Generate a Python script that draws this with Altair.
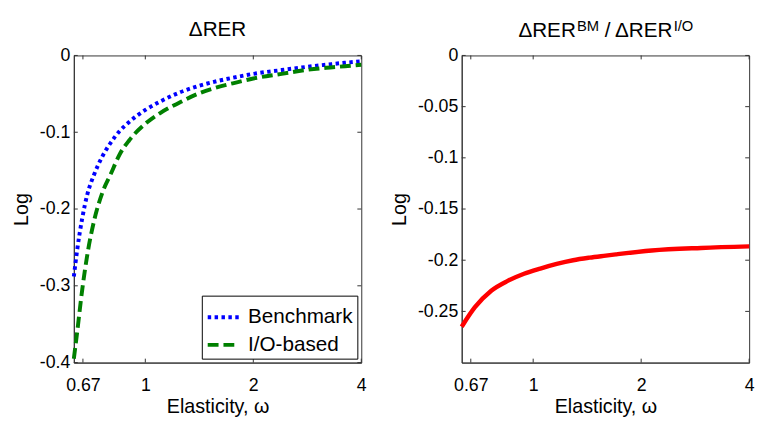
import altair as alt
import pandas as pd

# ---------------- data ----------------
omega = [0.632, 0.645, 0.667, 0.69, 0.72, 0.76, 0.8, 0.85, 0.9, 1.0, 1.1,
         1.25, 1.4, 1.6, 1.8, 2.0, 2.4, 2.8, 3.2, 3.6, 4.0]
benchmark = [-0.288, -0.255, -0.212, -0.180, -0.155, -0.131, -0.114, -0.098,
             -0.087, -0.071, -0.060, -0.048, -0.040, -0.033, -0.028, -0.024,
             -0.019, -0.015, -0.012, -0.0095, -0.0078]
io_based = [-0.395, -0.362, -0.305, -0.258, -0.215, -0.178, -0.155, -0.128,
            -0.111, -0.089, -0.075, -0.061, -0.050, -0.041, -0.035, -0.030,
            -0.024, -0.019, -0.016, -0.014, -0.012]
omega_ratio = [0.632, 0.688, 0.764, 0.849, 0.943, 1.047, 1.163, 1.292, 1.435,
               1.594, 1.70, 2.14, 2.94, 4.0]
ratio = [-0.265, -0.2459, -0.2298, -0.2202, -0.2132, -0.2081, -0.2036,
         -0.2000, -0.1975, -0.1955, -0.1943, -0.1905, -0.188, -0.1865]
series_names = ["Benchmark", "I/O-based"]
x_ticks = [0.67, 1, 2, 4]
left_y_ticks = [0, -0.1, -0.2, -0.3, -0.4]
right_y_ticks = [0, -0.05, -0.1, -0.15, -0.2, -0.25]
left_title = "ΔRER"
right_title_parts = ["ΔRER", "BM", "/ ΔRER", "I/O"]
x_title = "Elasticity, ω"
y_title = "Log"

# ---------------- styling ----------------
FONT = "Liberation Sans"
W, H = 292, 312
TICK = 4
AX = "#333333"

left_df = pd.DataFrame({
    "omega": omega * 2,
    "val": benchmark + io_based,
    "series": [series_names[0]] * len(omega) + [series_names[1]] * len(omega),
})
right_df = pd.DataFrame({"omega": omega_ratio, "val": ratio})
xt_df = pd.DataFrame({"omega": x_ticks})

x_scale = alt.Scale(type="log", domain=[0.632, 4], nice=False, zero=False)


def x_enc():
    return alt.X("omega:Q", scale=x_scale,
                 axis=alt.Axis(values=x_ticks, labelExpr="datum.value + ''",
                               title=x_title, ticks=False, grid=False,
                               labelFlush=False, labelPadding=14,
                               titlePadding=3, labelOverlap=False))


def y_enc(domain, ticks):
    return alt.Y("val:Q", scale=alt.Scale(domain=domain, nice=False, zero=False),
                 axis=alt.Axis(values=ticks, labelExpr="datum.value + ''",
                               title=y_title, ticks=False, grid=False,
                               labelPadding=4, titlePadding=8,
                               labelOverlap=False))


def tick_layers(domain, yticks):
    yt_df = pd.DataFrame({"val": yticks})
    base_x = alt.Chart(xt_df).mark_rule(color=AX, strokeWidth=1)
    base_y = alt.Chart(yt_df).mark_rule(color=AX, strokeWidth=1)
    return [
        base_x.encode(x=x_enc(), y=alt.value(H), y2=alt.value(H - TICK)),
        base_x.encode(x=x_enc(), y=alt.value(0), y2=alt.value(TICK)),
        base_y.encode(y=y_enc(domain, yticks), x=alt.value(0), x2=alt.value(TICK)),
        base_y.encode(y=y_enc(domain, yticks), x=alt.value(W), x2=alt.value(W - TICK)),
    ]


legend = alt.Legend(title=None, orient="none", legendX=130, legendY=244,
                    strokeColor="black", fillColor="white", padding=4,
                    labelFont=FONT, labelFontSize=21, labelColor="black",
                    symbolType="stroke", symbolSize=1024, symbolStrokeWidth=4,
                    rowPadding=-5, labelOffset=7, labelLimit=300)

left_lines = alt.Chart(left_df).mark_line(strokeWidth=4, interpolate="monotone").encode(
    x=x_enc(),
    y=y_enc([-0.4, 0], left_y_ticks),
    color=alt.Color("series:N", scale=alt.Scale(domain=series_names,
                                                range=["#0000ff", "#008000"]),
                    legend=legend),
    strokeDash=alt.StrokeDash("series:N", scale=alt.Scale(domain=series_names,
                                                          range=[[3.5, 3.5], [11, 5]]),
                              legend=legend),
    order=alt.Order("series:N", sort="descending"),
)

left = alt.layer(left_lines, *tick_layers([-0.4, 0], left_y_ticks)).properties(
    width=W, height=H,
    title=alt.Title(left_title, font=FONT, fontSize=21, fontWeight="normal",
                    color="black", offset=7),
)

right_line = alt.Chart(right_df).mark_line(strokeWidth=4.5, color="#ff0000",
                                           interpolate="monotone").encode(
    x=x_enc(), y=y_enc([-0.3, 0], right_y_ticks))

title_pos = [(57.6, -19, 21), (117.0, -25, 15), (145.3, -19, 21), (215.3, -25, 15)]
title_layers = []
for text, (px, py, fs) in zip(right_title_parts, title_pos):
    title_layers.append(
        alt.Chart(pd.DataFrame({"t": [text]})).mark_text(
            align="left", baseline="alphabetic", font=FONT, fontSize=fs,
            color="black").encode(text="t:N", x=alt.value(px), y=alt.value(py))
    )

right = alt.layer(right_line, *tick_layers([-0.3, 0], right_y_ticks),
                  *title_layers).properties(width=W, height=H)

chart = alt.hconcat(left, right, spacing=19).properties(
    padding={"left": 11, "top": 15, "right": 0, "bottom": 0},
    background="white",
).configure_view(stroke=AX, strokeWidth=1).configure_axis(
    domainColor=AX, domainWidth=1, labelFont=FONT, labelFontSize=18,
    labelColor="black", titleFont=FONT, titleFontSize=20,
    titleFontWeight="normal", titleColor="black",
)

chart.save("out.html", embed_options={"renderer": "svg", "actions": False})
